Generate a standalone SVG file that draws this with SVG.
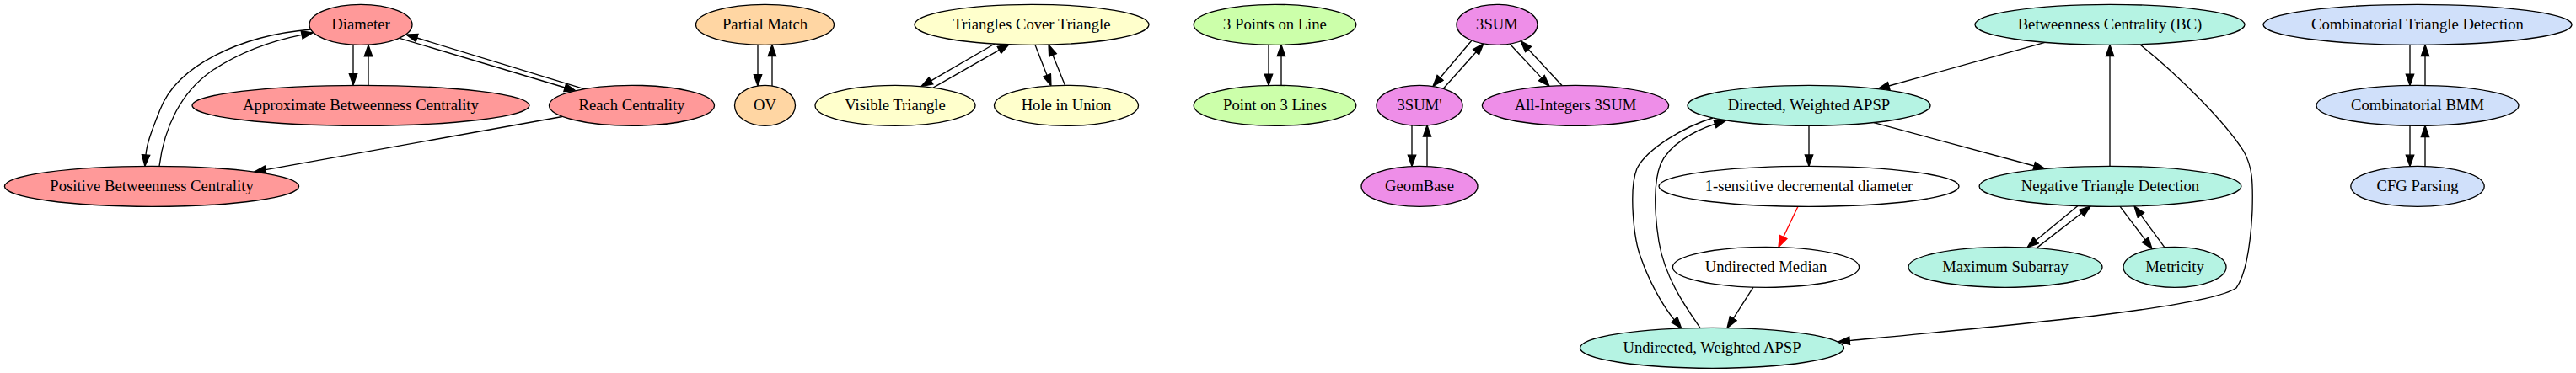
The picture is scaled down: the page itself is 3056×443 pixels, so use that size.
<svg xmlns="http://www.w3.org/2000/svg" width="3056" height="443" viewBox="0 0 3056 443">
<defs>
<style>
.n ellipse{stroke:#000;stroke-width:1.33}
.n text{font-family:"Liberation Serif","Times New Roman",serif;font-size:18.67px;text-anchor:middle;fill:#000}
.red ellipse{fill:#ff9999}
.org ellipse{fill:#ffd6a3}
.yel ellipse{fill:#ffffcc}
.grn ellipse{fill:#ccffaa}
.vio ellipse{fill:#ee8ee8}
.tea ellipse{fill:#b5f3e3}
.wht ellipse{fill:#ffffff}
.blu ellipse{fill:#d0e0fa}
#edges path{fill:none;stroke:#000;stroke-width:1.33;marker-end:url(#a)}
#edges path.r{stroke:#ff0000;marker-end:url(#ar)}
</style>
<marker id="a" markerUnits="userSpaceOnUse" markerWidth="16" markerHeight="12" viewBox="-1 -1 16 12" refX="0" refY="4.67" orient="auto"><path d="M0,0 L13.33,4.67 L0,9.33 z" fill="#000" stroke="#000" stroke-width="1.33"/></marker>
<marker id="ar" markerUnits="userSpaceOnUse" markerWidth="16" markerHeight="12" viewBox="-1 -1 16 12" refX="0" refY="4.67" orient="auto"><path d="M0,0 L13.33,4.67 L0,9.33 z" fill="#ff0000" stroke="#ff0000" stroke-width="1.33"/></marker>
</defs>
<rect width="3056" height="443" fill="#fff"/>
<g id="edges">
<path d="M419,53 L419,87.7"/>
<path d="M437,101.3 L437,66.8"/>
<path d="M474,45.4 L670.2,104"/>
<path d="M693,105.7 L494.7,45"/>
<path d="M369,35 C285,42 210,78 190,130 C178,160 174,172 173,184"/>
<path d="M189,197.3 C195,150 215,110 250,85 C290,58 330,47 358.1,41.4"/>
<path d="M667,138.5 L315.1,201.6"/>
<path d="M899,53.2 L899,88.7"/>
<path d="M916,102 L916,66.5"/>
<path d="M1180,52 L1104.5,95.9"/>
<path d="M1107,104.2 L1185.4,59.4"/>
<path d="M1228,53.3 L1242.1,89.4"/>
<path d="M1263.5,101.3 L1249,65.4"/>
<path d="M1505,53.2 L1505,88.1"/>
<path d="M1520,101.4 L1520,66.5"/>
<path d="M1746,48 L1708.6,92.3"/>
<path d="M1712,105.5 L1751.1,61.8"/>
<path d="M1791,52 L1828.9,92.6"/>
<path d="M1853,101.5 L1813.1,58.5"/>
<path d="M1675,148.9 L1675,184.2"/>
<path d="M1693,197.5 L1693,162.2"/>
<path d="M2426,50.3 L2240.8,102"/>
<path d="M2146,149.3 L2146,184"/>
<path d="M2223,145.6 L2413.2,197"/>
<path d="M2503,197.3 L2503,66.6"/>
<path d="M2539,53 C2585,90 2640,145 2662,180 C2672,198 2673,215 2672,250 C2670,290 2665,325 2653,342 C2620,365 2400,385 2194.2,404.6"/>
<path d="M2032,140 C2000,150 1955,175 1942,200 C1932,225 1938,285 1947,307 C1955,330 1970,360 1986.3,379.8"/>
<path d="M2017,389.4 C2000,365 1975,330 1968,287 C1962,250 1962,215 1970,195 C1980,172 2010,155 2034.5,147.3"/>
<path class="r" d="M2133,245.2 L2115.7,281.5"/>
<path d="M2080,341.1 L2056.2,378.3"/>
<path d="M2465,244.5 L2415.3,285.4"/>
<path d="M2416,294.6 L2469.5,253.1"/>
<path d="M2515,245.2 L2545,284.9"/>
<path d="M2568,293.8 L2539.9,255.6"/>
<path d="M2859,53.3 L2859,88.1"/>
<path d="M2877,101.4 L2877,66.6"/>
<path d="M2859,149.2 L2859,184.2"/>
<path d="M2877,197.5 L2877,162.5"/>
</g>
<g id="n_diameter" class="n red"><ellipse cx="428" cy="29.3" rx="61" ry="24"/><text x="428" y="34.9">Diameter</text></g>
<g id="n_abc" class="n red"><ellipse cx="428" cy="125.3" rx="200" ry="24"/><text x="428" y="130.9">Approximate Betweenness Centrality</text></g>
<g id="n_reach" class="n red"><ellipse cx="749.5" cy="125.3" rx="98" ry="24"/><text x="749.5" y="130.9">Reach Centrality</text></g>
<g id="n_pbc" class="n red"><ellipse cx="180" cy="221.3" rx="174.6" ry="24"/><text x="180" y="226.9">Positive Betweenness Centrality</text></g>
<g id="n_pm" class="n org"><ellipse cx="907.5" cy="29.3" rx="82" ry="24"/><text x="907.5" y="34.9">Partial Match</text></g>
<g id="n_ov" class="n org"><ellipse cx="907.5" cy="125.3" rx="36" ry="24"/><text x="907.5" y="130.9">OV</text></g>
<g id="n_tct" class="n yel"><ellipse cx="1224" cy="29.3" rx="139" ry="24"/><text x="1224" y="34.9">Triangles Cover Triangle</text></g>
<g id="n_vt" class="n yel"><ellipse cx="1062" cy="125.3" rx="95" ry="24"/><text x="1062" y="130.9">Visible Triangle</text></g>
<g id="n_hiu" class="n yel"><ellipse cx="1265" cy="125.3" rx="85.5" ry="24"/><text x="1265" y="130.9">Hole in Union</text></g>
<g id="n_3pol" class="n grn"><ellipse cx="1512.5" cy="29.3" rx="96.3" ry="24"/><text x="1512.5" y="34.9">3 Points on Line</text></g>
<g id="n_po3l" class="n grn"><ellipse cx="1512.5" cy="125.3" rx="96.3" ry="24"/><text x="1512.5" y="130.9">Point on 3 Lines</text></g>
<g id="n_3sum" class="n vio"><ellipse cx="1776" cy="29.3" rx="48" ry="24"/><text x="1776" y="34.9">3SUM</text></g>
<g id="n_3sump" class="n vio"><ellipse cx="1684" cy="125.3" rx="51" ry="24"/><text x="1684" y="130.9">3SUM'</text></g>
<g id="n_ai3sum" class="n vio"><ellipse cx="1869" cy="125.3" rx="110.6" ry="24"/><text x="1869" y="130.9">All-Integers 3SUM</text></g>
<g id="n_geombase" class="n vio"><ellipse cx="1684" cy="221.3" rx="69" ry="24"/><text x="1684" y="226.9">GeomBase</text></g>
<g id="n_bc" class="n tea"><ellipse cx="2503" cy="29.3" rx="160" ry="24"/><text x="2503" y="34.9">Betweenness Centrality (BC)</text></g>
<g id="n_dwapsp" class="n tea"><ellipse cx="2146" cy="125.3" rx="144" ry="24"/><text x="2146" y="130.9">Directed, Weighted APSP</text></g>
<g id="n_1sens" class="n wht"><ellipse cx="2146" cy="221.3" rx="178" ry="24"/><text x="2146" y="226.9">1-sensitive decremental diameter</text></g>
<g id="n_ntd" class="n tea"><ellipse cx="2503.5" cy="221.3" rx="155.4" ry="24"/><text x="2503.5" y="226.9">Negative Triangle Detection</text></g>
<g id="n_um" class="n wht"><ellipse cx="2095" cy="317.3" rx="110.6" ry="24"/><text x="2095" y="322.9">Undirected Median</text></g>
<g id="n_ms" class="n tea"><ellipse cx="2379" cy="317.3" rx="115" ry="24"/><text x="2379" y="322.9">Maximum Subarray</text></g>
<g id="n_metricity" class="n tea"><ellipse cx="2580" cy="317.3" rx="61" ry="24"/><text x="2580" y="322.9">Metricity</text></g>
<g id="n_uwapsp" class="n tea"><ellipse cx="2031" cy="413.3" rx="156.5" ry="24"/><text x="2031" y="418.9">Undirected, Weighted APSP</text></g>
<g id="n_ctd" class="n blu"><ellipse cx="2868" cy="29.3" rx="183" ry="24"/><text x="2868" y="34.9">Combinatorial Triangle Detection</text></g>
<g id="n_cbmm" class="n blu"><ellipse cx="2868" cy="125.3" rx="120" ry="24"/><text x="2868" y="130.9">Combinatorial BMM</text></g>
<g id="n_cfg" class="n blu"><ellipse cx="2868" cy="221.3" rx="79.2" ry="24"/><text x="2868" y="226.9">CFG Parsing</text></g>
</svg>
